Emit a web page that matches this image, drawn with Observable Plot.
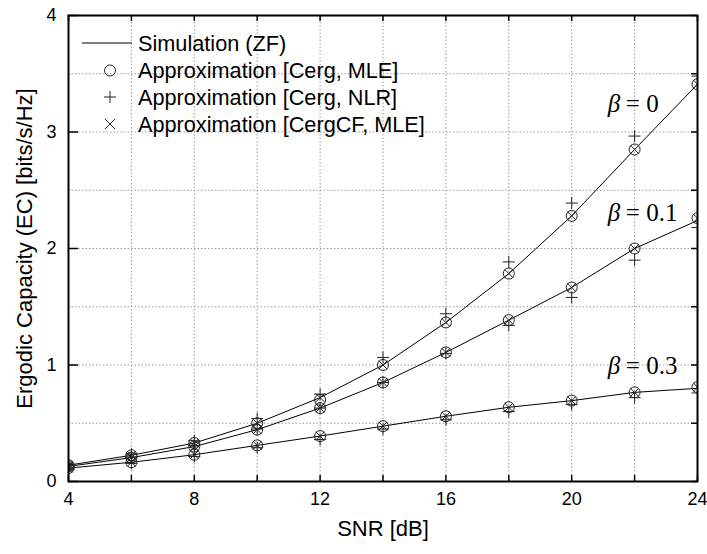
<!DOCTYPE html>
<html><head><meta charset="utf-8">
<script src="https://cdn.jsdelivr.net/npm/d3@7"></script>
<script src="https://cdn.jsdelivr.net/npm/@observablehq/plot@0.6"></script>
<style>
body{margin:0;background:#fff;}
#chart svg{font-family:"Liberation Sans",Arial,sans-serif;background:#fff;}
</style></head><body><div id="chart"></div>
<script>
// ---- data ----
const snr = [4, 6, 8, 10, 12, 14, 16, 18, 20, 22, 24];
const betas = ["0", "0.1", "0.3"];

// Simulation (ZF)
const sim_b0  = [0.14, 0.225, 0.33, 0.50, 0.72, 1.00, 1.365, 1.785, 2.28, 2.85, 3.41];
const sim_b01 = [0.13, 0.205, 0.30, 0.445, 0.63, 0.85, 1.108, 1.385, 1.665, 2.00, 2.24];
const sim_b03 = [0.115, 0.165, 0.23, 0.31, 0.39, 0.475, 0.56, 0.637, 0.694, 0.765, 0.80];
// Approximation [Cerg, MLE]
const mle_b0  = [0.14, 0.225, 0.33, 0.50, 0.70, 1.00, 1.365, 1.785, 2.28, 2.85, 3.41];
const mle_b01 = [0.13, 0.205, 0.30, 0.445, 0.63, 0.85, 1.108, 1.385, 1.665, 2.00, 2.26];
const mle_b03 = [0.115, 0.165, 0.23, 0.31, 0.39, 0.475, 0.56, 0.637, 0.694, 0.765, 0.81];
// Approximation [Cerg, NLR]
const nlr_b0  = [0.15, 0.235, 0.35, 0.54, 0.75, 1.065, 1.44, 1.885, 2.39, 2.965, 3.48];
const nlr_b01 = [0.135, 0.21, 0.31, 0.45, 0.63, 0.85, 1.10, 1.34, 1.58, 1.90, 2.18];
const nlr_b03 = [0.105, 0.155, 0.215, 0.29, 0.36, 0.45, 0.53, 0.60, 0.66, 0.72, 0.76];
// Approximation [CergCF, MLE]
const cf_b0  = [0.14, 0.225, 0.33, 0.50, 0.72, 1.00, 1.365, 1.785, 2.28, 2.85, 3.41];
const cf_b01 = [0.13, 0.205, 0.30, 0.445, 0.63, 0.85, 1.108, 1.385, 1.665, 2.00, 2.26];
const cf_b03 = [0.115, 0.165, 0.23, 0.31, 0.39, 0.475, 0.56, 0.637, 0.694, 0.765, 0.81];

// axis ticks
const xTicks = [4, 6, 8, 10, 12, 14, 16, 18, 20, 22, 24];
const xTickLabels = [4, 8, 12, 16, 20, 24];
const yMinorTicks = [0, 0.5, 1, 1.5, 2, 2.5, 3, 3.5, 4];
const yTickLabels = [0, 1, 2, 3, 4];

// legend
const legendLabels = ["Simulation (ZF)", "Approximation [Cerg, MLE]", "Approximation [Cerg, NLR]", "Approximation [CergCF, MLE]"];

// curve annotations (beta labels), in data coordinates
const annoBeta = ["0", "0.1", "0.3"];
const annoX = [21.15, 21.15, 21.15];
const annoY = [3.17, 2.236, 0.925];

// ---- build tidy tables ----
function rows(arrs) {
  const out = [];
  arrs.forEach((a, i) => a.forEach((v, j) => out.push({snr: snr[j], value: v, beta: betas[i]})));
  return out;
}
const simRows = rows([sim_b0, sim_b01, sim_b03]);
const mleRows = rows([mle_b0, mle_b01, mle_b03]);
const nlrRows = rows([nlr_b0, nlr_b01, nlr_b03]);
const cfRows  = rows([cf_b0, cf_b01, cf_b03]);
const annoRows = annoBeta.map((b, i) => ({beta: b, x: annoX[i], y: annoY[i]}));

const plusSym = {draw(ctx, size) {const r = Math.sqrt(size / Math.PI); ctx.moveTo(-r, 0); ctx.lineTo(r, 0); ctx.moveTo(0, -r); ctx.lineTo(0, r);}};
const timesSym = {draw(ctx, size) {const r = Math.sqrt(size / Math.PI) * 0.72; ctx.moveTo(-r, -r); ctx.lineTo(r, r); ctx.moveTo(-r, r); ctx.lineTo(r, -r);}};

const W = 707, H = 554, mL = 68, mR = 10, mT = 15, mB = 73;
const pw = W - mL - mR, ph = H - mT - mB;
const ink = "#222";

const chart = Plot.plot({
  width: W, height: H,
  marginLeft: mL, marginRight: mR, marginTop: mT, marginBottom: mB,
  x: {domain: [4, 24]},
  y: {domain: [0, 4]},
  style: {fontFamily: '"Liberation Sans", Arial, sans-serif', background: "#fff"},
  marks: [
    // dotted grid
    Plot.ruleX(xTicks, {x: d => d, stroke: "#9a9a9a", strokeWidth: 1, strokeDasharray: "1.5,2"}),
    Plot.ruleY(yMinorTicks, {y: d => d, stroke: "#9a9a9a", strokeWidth: 1, strokeDasharray: "1.5,2"}),
    // curves
    Plot.line(simRows, {x: "snr", y: "value", z: "beta", stroke: "#000", strokeWidth: 1}),
    Plot.dot(mleRows, {x: "snr", y: "value", r: 5.5, fill: "none", stroke: ink, strokeWidth: 1, clip: true}),
    Plot.dot(nlrRows, {x: "snr", y: "value", r: 6, symbol: plusSym, fill: "none", stroke: ink, strokeWidth: 1, clip: true}),
    Plot.dot(cfRows,  {x: "snr", y: "value", r: 6, symbol: timesSym, fill: "none", stroke: ink, strokeWidth: 1, clip: true}),
    // beta annotations
    Plot.text(annoRows, {x: "x", y: "y", text: () => "β", textAnchor: "start", lineAnchor: "bottom",
      fontFamily: '"Liberation Serif", "Times New Roman", serif', fontStyle: "italic", fontSize: 25, fill: "#000"}),
    Plot.text(annoRows, {x: "x", y: "y", text: d => "= " + d.beta, dx: 18, textAnchor: "start", lineAnchor: "bottom",
      fontFamily: '"Liberation Serif", "Times New Roman", serif', fontSize: 25, fill: "#000"}),
    // inward ticks
    Plot.ruleX(xTicks, {x: d => d, insetTop: ph - 6, stroke: "#000", strokeWidth: 1.5}),
    Plot.ruleX(xTicks, {x: d => d, insetBottom: ph - 6, stroke: "#000", strokeWidth: 1.5}),
    Plot.ruleY(yTickLabels, {y: d => d, insetRight: pw - 10, stroke: "#000", strokeWidth: 1.5}),
    Plot.ruleY(yMinorTicks, {y: d => d, insetLeft: pw - 6, stroke: "#000", strokeWidth: 1.5}),
    // axes (labels only)
    Plot.axisX(xTickLabels, {tickSize: 0, tickPadding: 11, fontSize: 18, tickFormat: d => String(d), label: null, fill: "#000"}),
    Plot.axisY(yTickLabels, {tickSize: 0, tickPadding: 12, fontSize: 18, tickFormat: d => String(d), label: null, fill: "#000"}),
    Plot.text(["SNR [dB]"], {frameAnchor: "bottom", dy: 54, fontSize: 22, fill: "#000"}),
    Plot.text(["Ergodic Capacity (EC) [bits/s/Hz]"], {frameAnchor: "left", dx: -44, rotate: -90, textAnchor: "middle", fontSize: 22, fill: "#000"}),
    Plot.frame({stroke: "#000", strokeWidth: 2})
  ]
});

// legend inside the plot area (top-left)
const svg = d3.select(chart);
const lg = svg.append("g").attr("font-size", 21.7).attr("fill", "#000").attr("text-anchor", "start");
const rowY = [43, 70.5, 97, 124];
const symX = 110, txtX = 138;
lg.append("line").attr("x1", 82).attr("x2", 132).attr("y1", rowY[0]).attr("y2", rowY[0]).attr("stroke", "#000").attr("stroke-width", 1);
lg.append("circle").attr("cx", symX).attr("cy", rowY[1]).attr("r", 5.5).attr("fill", "none").attr("stroke", ink);
const pr = 6;
lg.append("path").attr("d", `M${symX - pr},${rowY[2]}H${symX + pr}M${symX},${rowY[2] - pr}V${rowY[2] + pr}`).attr("stroke", ink).attr("fill", "none");
const tr = 5;
lg.append("path").attr("d", `M${symX - tr},${rowY[3] - tr}L${symX + tr},${rowY[3] + tr}M${symX - tr},${rowY[3] + tr}L${symX + tr},${rowY[3] - tr}`).attr("stroke", ink).attr("fill", "none");
legendLabels.forEach((t, i) => {
  lg.append("text").attr("x", txtX).attr("y", rowY[i]).attr("dy", "0.36em").attr("text-anchor", "start").text(t);
});

document.getElementById("chart").appendChild(chart);
</script>
</body></html>
